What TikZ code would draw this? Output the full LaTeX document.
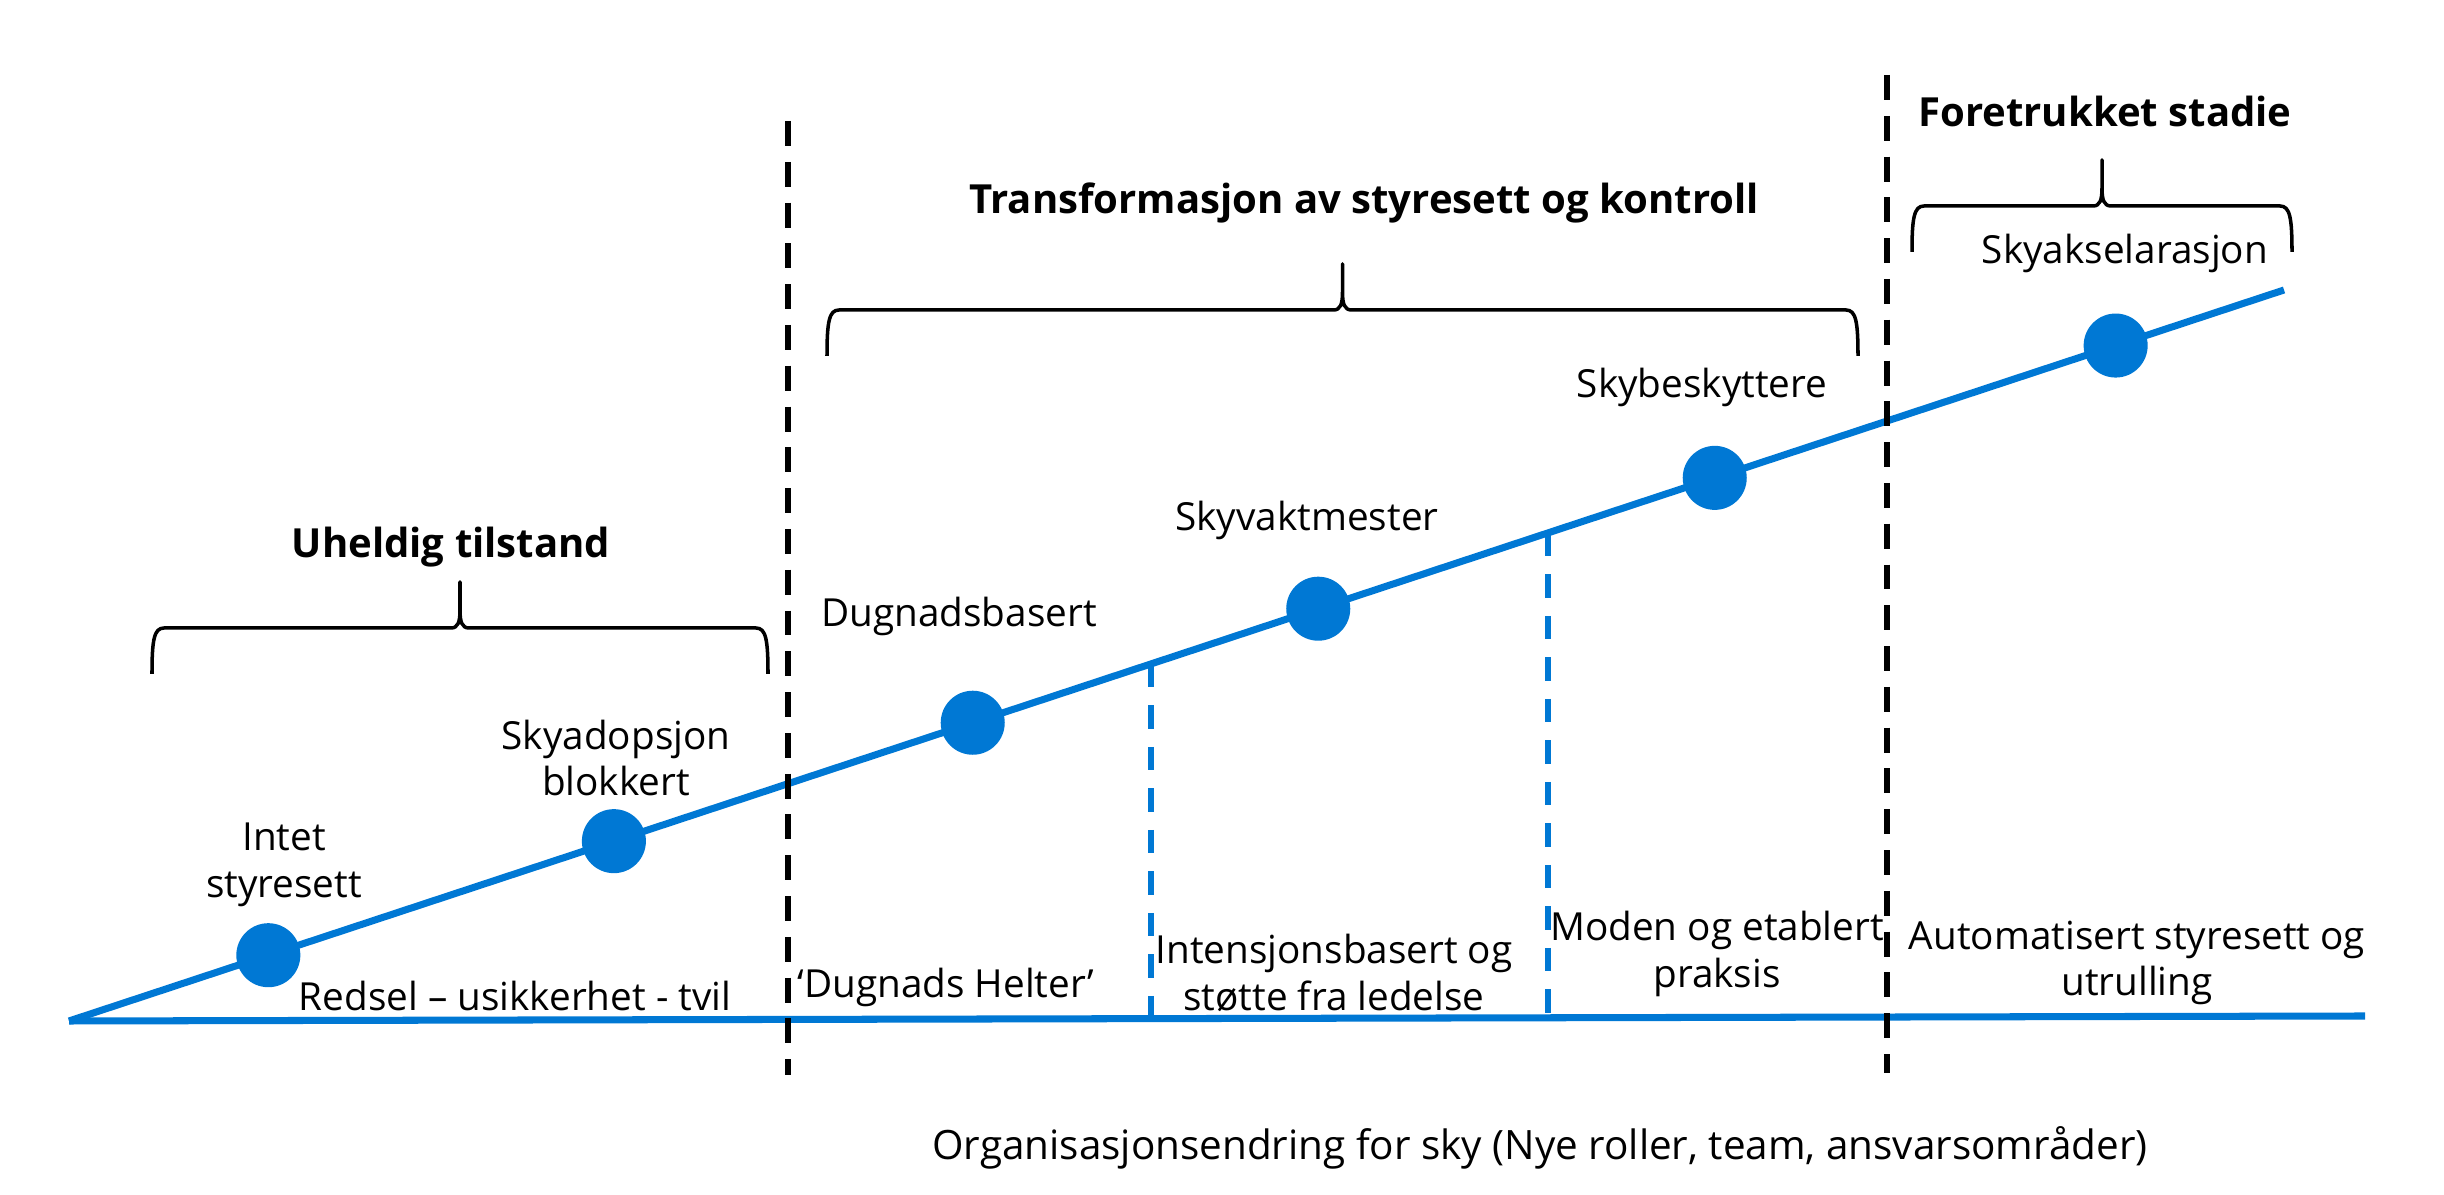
\documentclass[tikz,border=0pt]{standalone}
\usepackage{fontspec}
\setmainfont{Open Sans}
\definecolor{skyblue}{RGB}{0,120,212}

% curly bracket over a phase: left x, right x, foot y
\newcommand{\phasebrace}[3]{%
    \pgfmathsetmacro{\bxm}{(#1+#2)/2}
    \draw[bracestroke] (#1,#3) .. controls (#1,#3-34) and (#1+2,#3-46) .. (#1+12,#3-46)
        -- (\bxm-9,#3-46) .. controls (\bxm-2,#3-46) and (\bxm,#3-52) .. (\bxm,#3-64)
        -- (\bxm,#3-92) -- (\bxm,#3-64) .. controls (\bxm,#3-52) and (\bxm+2,#3-46) .. (\bxm+9,#3-46)
        -- (#2-12,#3-46) .. controls (#2-2,#3-46) and (#2,#3-34) .. (#2,#3);}

\begin{document}
\begin{tikzpicture}[x=0.01cm,y=-0.01cm,
        track/.style={skyblue,line width=2pt},
        stagedot/.style={circle,fill=skyblue,inner sep=0pt,minimum size=0.64cm},
        phaseline/.style={black,line width=1.6pt,dash pattern=on 7.1pt off 4.5pt},
        markline/.style={skyblue,line width=1.6pt,dash pattern=on 6.6pt off 5.2pt},
        bracestroke/.style={line width=1pt,line join=round},
        headtxt/.style={font=\bfseries\fontsize{11.4}{14}\selectfont},
        bodytxt/.style={font=\fontsize{11}{13.3}\selectfont,align=center}]
        \useasboundingbox (0,0) rectangle (2444,1195);

        \coordinate (o) at (69,1021);
        \coordinate (e) at (2284,290);
        \coordinate (r) at (2365,1016);

        \draw[track] (o) -- (r);
        \draw[track] (o) -- (e)
            coordinate[pos=0.4885] (m1) coordinate[pos=0.6677] (m2)
            node[stagedot,pos=0.090] (d1) {}
            node[stagedot,pos=0.246] (d2) {}
            node[stagedot,pos=0.408] (d3) {}
            node[stagedot,pos=0.564] (d4) {}
            node[stagedot,pos=0.743] (d5) {}
            node[stagedot,pos=0.924] (d6) {};

        \draw[markline] (m1) -- (m1 |- o);
        \draw[markline] (m2) -- (m2 |- o);

        \coordinate (p1t) at (788,121);
        \coordinate (p1b) at (788,1075);
        \coordinate (p2t) at (1887,75);
        \coordinate (p2b) at (1887,1073);
        \draw[phaseline] (p1t) -- (p1b);
        \draw[phaseline] (p2t) -- (p2b);

        \phasebrace{152}{768}{674}
        \phasebrace{827}{1858}{356}
        \phasebrace{1912}{2292}{252}

        \node[headtxt] (h1) at (451,547) {Uheldig tilstand};
        \node[headtxt] (h2) at (1364,203) {Transformasjon av styresett og kontroll};
        \node[headtxt] (h3) at (2105,111) {Foretrukket stadie};

        \node[bodytxt] (s1) at (284,865) {Intet\\styresett};
        \node[bodytxt] (s2) at (616,758) {Skyadopsjon\\blokkert};
        \node[bodytxt] (s3) at (959,616) {Dugnadsbasert};
        \node[bodytxt] (s4) at (1307,520) {Skyvaktmester};
        \node[bodytxt] (s5) at (1702,387) {Skybeskyttere};
        \node[bodytxt] (s6) at (2125,253) {Skyakselarasjon};

        \node[bodytxt] (b1) at (515,996) {Redsel – usikkerhet - tvil};
        \node[bodytxt] (b2) at (946,987) {‘Dugnads Helter’};
        \node[bodytxt] (b3) at (1334,973) {Intensjonsbasert og\\støtte fra ledelse};
        \node[bodytxt] (b4) at (1717,954) {Moden og etablert\\praksis};
        \node[bodytxt] (b5) at (2137,963) {Automatisert styresett og\\utrulling};

        \node[bodytxt,font=\fontsize{11.5}{14}\selectfont] (xlab) at (1540,1148) {Organisasjonsendring for sky (Nye roller, team, ansvarsområder)};
\end{tikzpicture}
\end{document}
